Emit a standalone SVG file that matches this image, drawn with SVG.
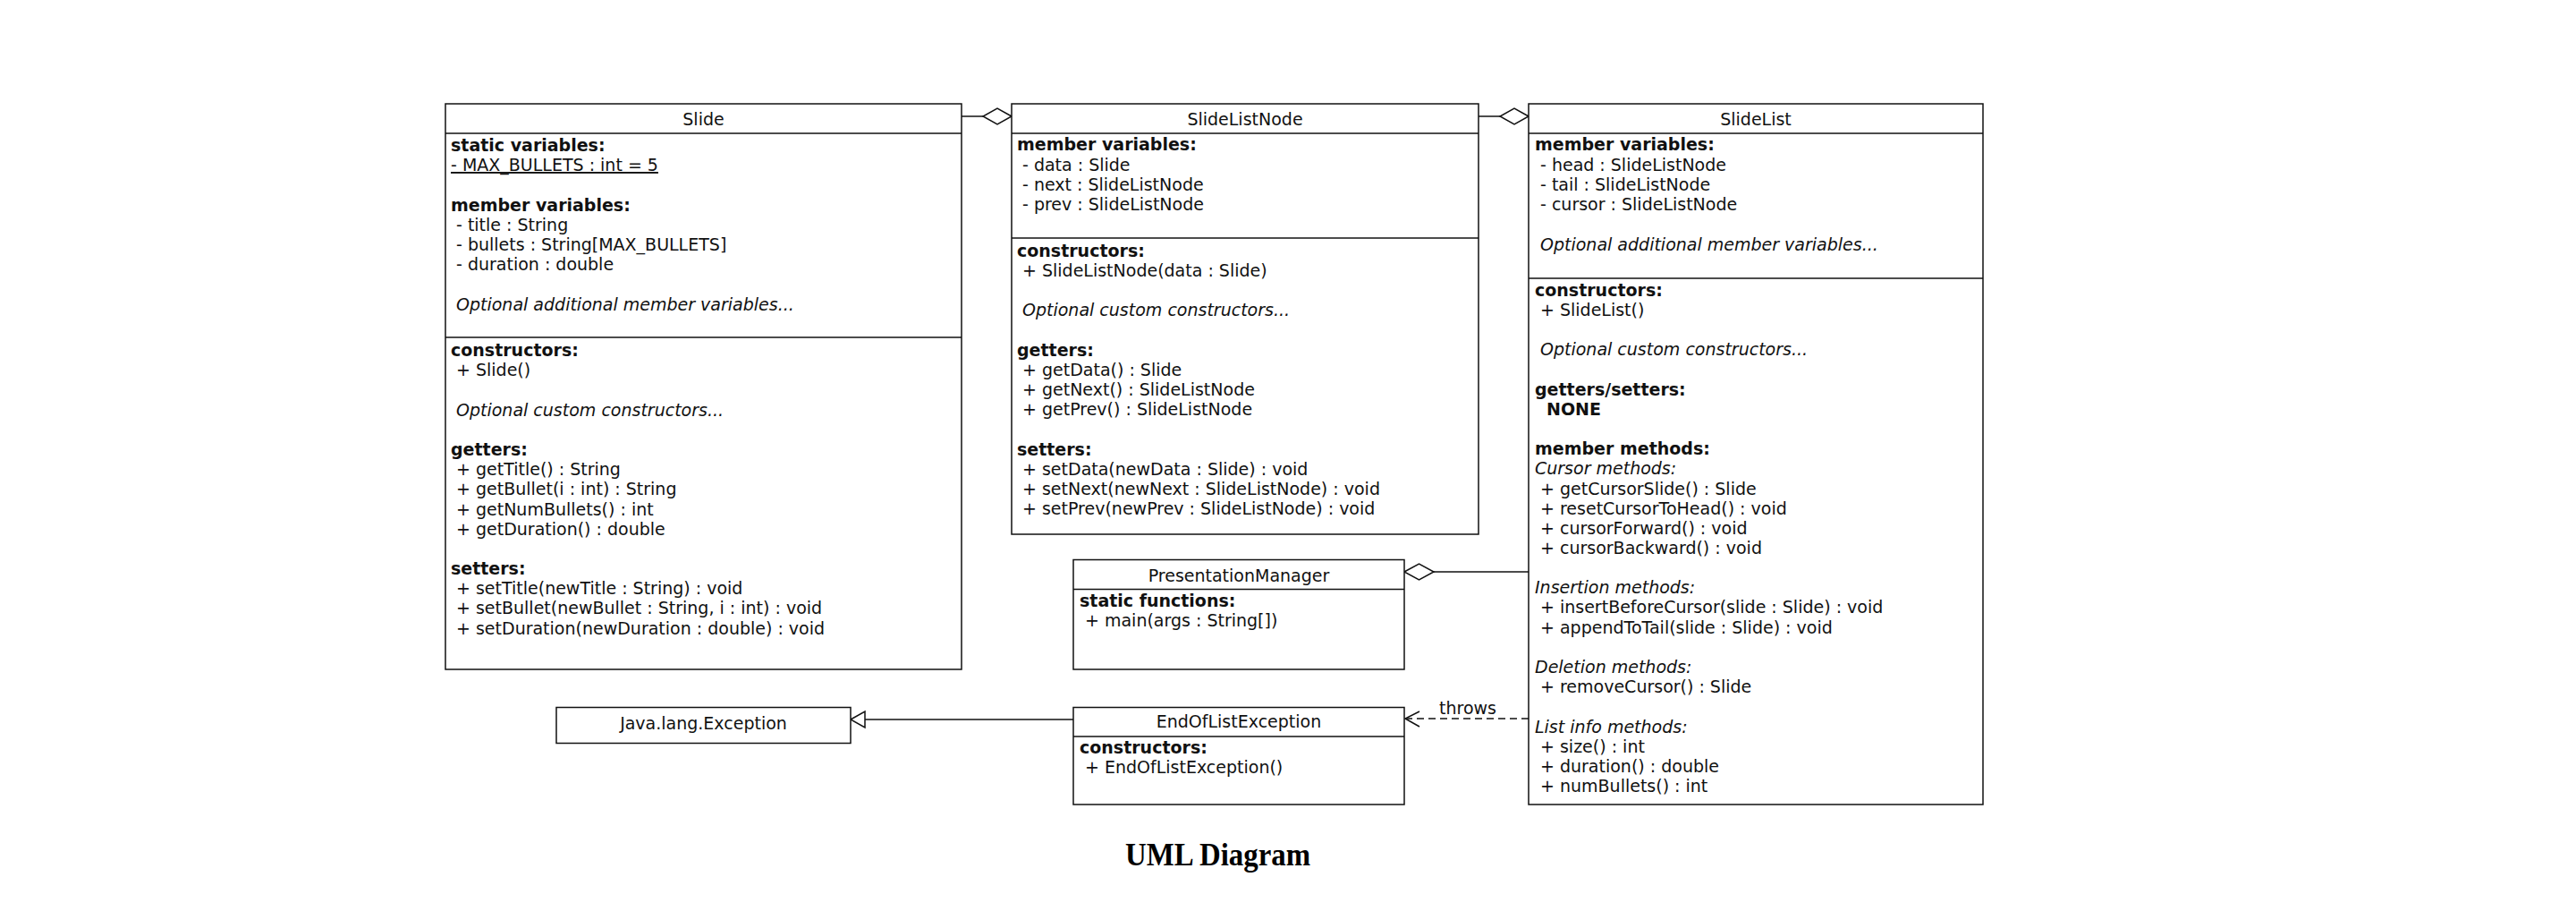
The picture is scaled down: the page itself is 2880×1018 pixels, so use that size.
<svg xmlns="http://www.w3.org/2000/svg" width="2880" height="1018" viewBox="0 0 2880 1018">
<defs>
<style>
text{font-family:"DejaVu Sans","Liberation Sans",sans-serif;font-size:19px;fill:#111;}
.t{text-anchor:middle;}
.b{font-weight:bold;}
.i{font-style:italic;}
.u{text-decoration:underline;}
.box{fill:#fff;stroke:#111;stroke-width:1.5;}
.ln{stroke:#111;stroke-width:1.5;fill:none;}
.dash{stroke:#111;stroke-width:1.5;fill:none;stroke-dasharray:8 5;}
.title{font-family:"Liberation Serif","Times New Roman",serif;font-size:36px;font-weight:bold;text-anchor:middle;fill:#000;}
</style>
</defs>
<rect width="2880" height="1018" fill="#fff"/>

<g id="connectors">
  <line class="ln" x1="1075" y1="130" x2="1099" y2="130"/>
  <polygon class="box" points="1131,130 1115,121 1099,130 1115,139"/>
  <line class="ln" x1="1653" y1="130" x2="1677" y2="130"/>
  <polygon class="box" points="1709,130 1693,121 1677,130 1693,139"/>
  <line class="ln" x1="1603" y1="639" x2="1709" y2="639"/>
  <polygon class="box" points="1570,639 1586.5,630 1603,639 1586.5,648"/>
  <line class="ln" x1="1200" y1="804" x2="967" y2="804"/>
  <polygon class="box" points="951,804 967,795 967,813"/>
  <line class="dash" x1="1709" y1="803" x2="1572" y2="803"/>
  <polyline class="ln" points="1587,795 1571,803 1587,812"/>
  <text x="1641" y="798" class="t">throws</text>
</g>

<g id="Slide">
  <rect class="box" x="498" y="116" width="577" height="632"/>
  <line class="ln" x1="498" y1="149" x2="1075" y2="149"/>
  <line class="ln" x1="498" y1="377" x2="1075" y2="377"/>
  <text x="786.5" y="140" class="t">Slide</text>
  <text x="504" y="169" class="b">static variables:</text>
  <text x="504" y="191" class="u">- MAX_BULLETS : int = 5</text>
  <text x="504" y="236" class="b">member variables:</text>
  <text x="510" y="258">- title : String</text>
  <text x="510" y="280">- bullets : String[MAX_BULLETS]</text>
  <text x="510" y="302">- duration : double</text>
  <text x="510" y="347" class="i">Optional additional member variables...</text>
  <text x="504" y="398" class="b">constructors:</text>
  <text x="510" y="420">+ Slide()</text>
  <text x="510" y="465" class="i">Optional custom constructors...</text>
  <text x="504" y="509" class="b">getters:</text>
  <text x="510" y="531">+ getTitle() : String</text>
  <text x="510" y="553">+ getBullet(i : int) : String</text>
  <text x="510" y="576">+ getNumBullets() : int</text>
  <text x="510" y="598">+ getDuration() : double</text>
  <text x="504" y="642" class="b">setters:</text>
  <text x="510" y="664">+ setTitle(newTitle : String) : void</text>
  <text x="510" y="686">+ setBullet(newBullet : String, i : int) : void</text>
  <text x="510" y="709">+ setDuration(newDuration : double) : void</text>
</g>

<g id="SlideListNode">
  <rect class="box" x="1131" y="116" width="522" height="481"/>
  <line class="ln" x1="1131" y1="149" x2="1653" y2="149"/>
  <line class="ln" x1="1131" y1="266" x2="1653" y2="266"/>
  <text x="1392" y="140" class="t">SlideListNode</text>
  <text x="1137" y="168" class="b">member variables:</text>
  <text x="1143" y="191">- data : Slide</text>
  <text x="1143" y="213">- next : SlideListNode</text>
  <text x="1143" y="235">- prev : SlideListNode</text>
  <text x="1137" y="287" class="b">constructors:</text>
  <text x="1143" y="309">+ SlideListNode(data : Slide)</text>
  <text x="1143" y="353" class="i">Optional custom constructors...</text>
  <text x="1137" y="398" class="b">getters:</text>
  <text x="1143" y="420">+ getData() : Slide</text>
  <text x="1143" y="442">+ getNext() : SlideListNode</text>
  <text x="1143" y="464">+ getPrev() : SlideListNode</text>
  <text x="1137" y="509" class="b">setters:</text>
  <text x="1143" y="531">+ setData(newData : Slide) : void</text>
  <text x="1143" y="553">+ setNext(newNext : SlideListNode) : void</text>
  <text x="1143" y="575">+ setPrev(newPrev : SlideListNode) : void</text>
</g>

<g id="SlideList">
  <rect class="box" x="1709" y="116" width="508" height="783"/>
  <line class="ln" x1="1709" y1="149" x2="2217" y2="149"/>
  <line class="ln" x1="1709" y1="311" x2="2217" y2="311"/>
  <text x="1963" y="140" class="t">SlideList</text>
  <text x="1716" y="168" class="b">member variables:</text>
  <text x="1722" y="191">- head : SlideListNode</text>
  <text x="1722" y="213">- tail : SlideListNode</text>
  <text x="1722" y="235">- cursor : SlideListNode</text>
  <text x="1722" y="280" class="i">Optional additional member variables...</text>
  <text x="1716" y="331" class="b">constructors:</text>
  <text x="1722" y="353">+ SlideList()</text>
  <text x="1722" y="397" class="i">Optional custom constructors...</text>
  <text x="1716" y="442" class="b">getters/setters:</text>
  <text x="1729" y="464" class="b">NONE</text>
  <text x="1716" y="508" class="b">member methods:</text>
  <text x="1716" y="530" class="i">Cursor methods:</text>
  <text x="1722" y="553">+ getCursorSlide() : Slide</text>
  <text x="1722" y="575">+ resetCursorToHead() : void</text>
  <text x="1722" y="597">+ cursorForward() : void</text>
  <text x="1722" y="619">+ cursorBackward() : void</text>
  <text x="1716" y="663" class="i">Insertion methods:</text>
  <text x="1722" y="685">+ insertBeforeCursor(slide : Slide) : void</text>
  <text x="1722" y="708">+ appendToTail(slide : Slide) : void</text>
  <text x="1716" y="752" class="i">Deletion methods:</text>
  <text x="1722" y="774">+ removeCursor() : Slide</text>
  <text x="1716" y="819" class="i">List info methods:</text>
  <text x="1722" y="841">+ size() : int</text>
  <text x="1722" y="863">+ duration() : double</text>
  <text x="1722" y="885">+ numBullets() : int</text>
</g>

<g id="PresentationManager">
  <rect class="box" x="1200" y="625.5" width="370" height="122.5"/>
  <line class="ln" x1="1200" y1="658.5" x2="1570" y2="658.5"/>
  <text x="1385" y="650" class="t">PresentationManager</text>
  <text x="1207" y="678" class="b">static functions:</text>
  <text x="1213" y="700">+ main(args : String[])</text>
</g>

<g id="EndOfListException">
  <rect class="box" x="1200" y="790.5" width="370" height="108.5"/>
  <line class="ln" x1="1200" y1="823" x2="1570" y2="823"/>
  <text x="1385" y="813" class="t">EndOfListException</text>
  <text x="1207" y="842" class="b">constructors:</text>
  <text x="1213" y="864">+ EndOfListException()</text>
</g>

<g id="JavaLangException">
  <rect class="box" x="622" y="790.5" width="329" height="40"/>
  <text x="786.5" y="815" class="t">Java.lang.Exception</text>
</g>

<text x="1361.5" y="967" class="title" textLength="207" lengthAdjust="spacingAndGlyphs">UML Diagram</text>
</svg>
